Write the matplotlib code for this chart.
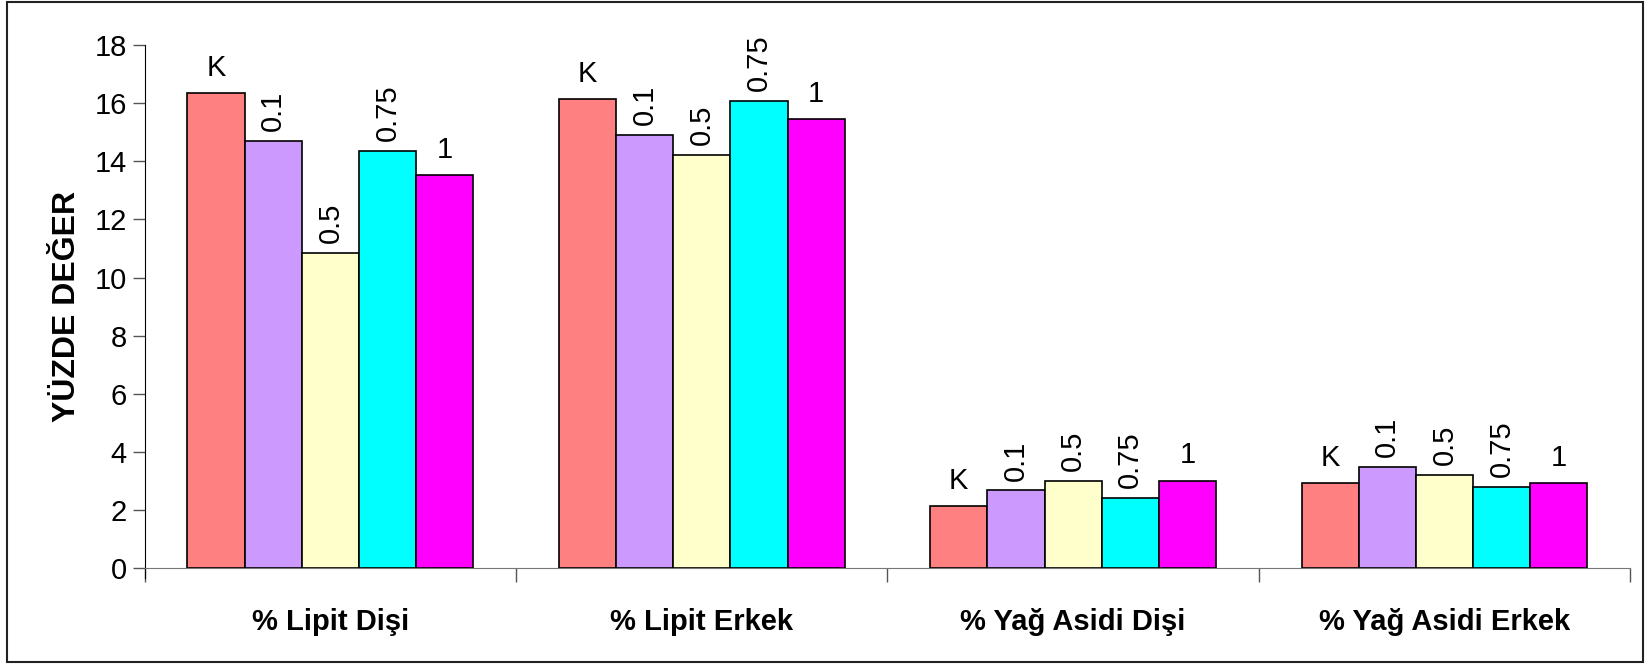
import numpy as np
import matplotlib.pyplot as plt
from matplotlib.patches import Rectangle

plt.rcParams['font.family'] = ['Liberation Sans', 'DejaVu Sans']

# groups on the x axis
categories = ['% Lipit Dişi', '% Lipit Erkek', '% Yağ Asidi Dişi', '% Yağ Asidi Erkek']
# dose series (K = control)
series = ['K', '0.1', '0.5', '0.75', '1']
colors = ['#FF8080', '#CC99FF', '#FFFFCC', '#00FFFF', '#FF00FF']

val_K = [16.36, 16.14, 2.12, 2.93]
val_01 = [14.70, 14.91, 2.67, 3.49]
val_05 = [10.86, 14.22, 3.01, 3.21]
val_075 = [14.36, 16.09, 2.40, 2.80]
val_1 = [13.54, 15.47, 3.01, 2.93]
values = [val_K, val_01, val_05, val_075, val_1]

# which labels are written vertically
rotated = [False, True, True, True, False]

fig = plt.figure(figsize=(16.45, 6.65), dpi=100)
ax = fig.add_axes([0.088, 0.146, 0.903, 0.786])

x = np.arange(len(categories))
w = 0.154
for i, (name, vals) in enumerate(zip(series, values)):
    pos = x + (i - 2) * w
    ax.bar(pos, vals, width=w, color=colors[i], edgecolor='black', linewidth=1.2, zorder=3)
    for px, v in zip(pos, vals):
        if rotated[i]:
            ax.annotate(name, (px, v), xytext=(0, 7), textcoords='offset points',
                        ha='center', va='bottom', rotation=90, fontsize=21)
        else:
            ax.annotate(name, (px, v), xytext=(0, 8), textcoords='offset points',
                        ha='center', va='bottom', fontsize=21)

ax.set_xlim(-0.5, len(categories) - 0.5)
ax.set_ylim(0, 18)
ax.set_yticks(np.arange(0, 19, 2))
ax.tick_params(axis='y', labelsize=21, length=9, width=1, color='#555555', pad=4)

ax.set_xticks(x)
ax.set_xticklabels(categories, fontsize=21, fontweight='bold')
ax.tick_params(axis='x', length=0, pad=29)
ax.set_xticks(np.arange(-0.5, len(categories)), minor=True)
ax.tick_params(axis='x', which='minor', length=10, width=1, color='#555555')

ax.set_ylabel('YÜZDE DEĞER', fontsize=23, fontweight='bold', labelpad=9)

ax.spines['top'].set_visible(False)
ax.spines['right'].set_visible(False)
ax.spines['left'].set_color('black')
ax.spines['bottom'].set_color('#777777')
ax.spines['left'].set_bounds(-0.35, 18)

# frame around the whole chart area
fig.patches.append(Rectangle((0.0045, 0.004), 0.994, 0.993, transform=fig.transFigure,
                             fill=False, edgecolor='#222222', linewidth=1.5))

fig.savefig('out.png', dpi=100)
